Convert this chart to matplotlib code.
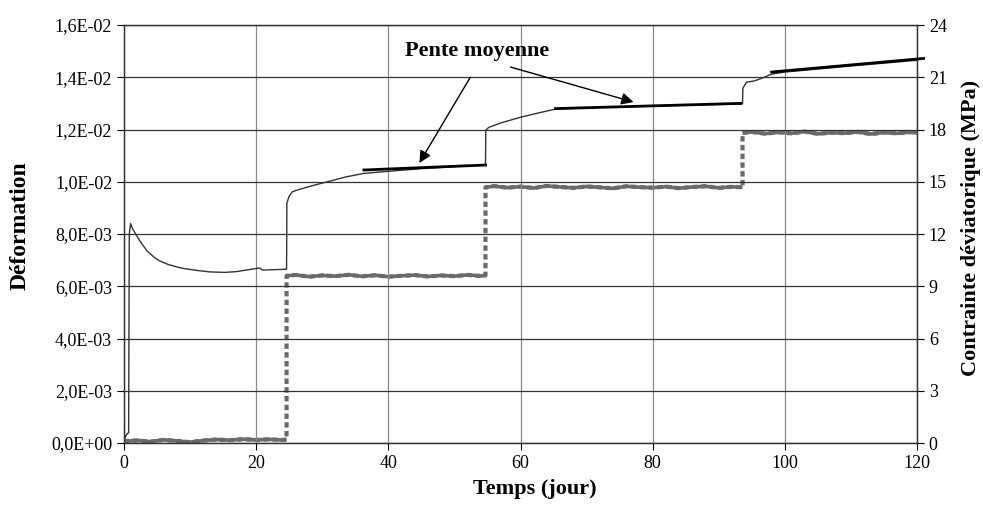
import matplotlib
matplotlib.use("Agg")
import matplotlib.pyplot as plt
from matplotlib.ticker import FuncFormatter

# ---------------- data ----------------
strain_t = [0, 0.3, 0.7, 0.8, 1.0, 1.3, 2.0, 2.6, 3.5, 4.6, 5.5, 6.6, 8.0, 9.0, 11.2, 13.0,
            15.2, 17.0, 19.0, 20.5, 21.0, 24.6, 24.65, 25.0, 25.5, 26.7, 28.5, 30.8, 33.5,
            36.3, 40.0, 45.0, 50.0, 54.7, 54.75, 55.2, 57.0, 60.0, 63.0, 65.3, 70.0, 80.0,
            90.0, 93.6, 93.65, 94.2, 95.4, 96.5, 98.0, 100.0, 110.0, 120.0]
strain_v = [0.0001, 0.0003, 0.0004, 0.0080, 0.0084, 0.0082, 0.0079, 0.00766, 0.00735,
            0.00710, 0.00696, 0.00684, 0.00674, 0.00668, 0.00660, 0.00655, 0.00653,
            0.00656, 0.00664, 0.00670, 0.00662, 0.00665, 0.00919, 0.00945, 0.00962,
            0.00972, 0.00985, 0.01000, 0.01018, 0.01032, 0.01040, 0.01050, 0.01058,
            0.01064, 0.01198, 0.01208, 0.01225, 0.01247, 0.01265, 0.01278, 0.01283,
            0.01290, 0.01296, 0.01298, 0.01358, 0.01381, 0.01386, 0.01396, 0.01412,
            0.01420, 0.01443, 0.01465]

# "Pente moyenne" fitted segments: (t_start, t_end), (strain_start, strain_end)
fit1 = ([36.3, 54.7], [0.01045, 0.01064])
fit2 = ([65.3, 93.3], [0.01280, 0.01300])
fit3 = ([98.0, 121.0], [0.01420, 0.01472])

stress_t = [0, 2, 4, 6, 8, 10, 12, 14, 16, 18, 20, 22, 24, 24.6,
            24.6, 26, 28, 30, 32, 34, 36, 38, 40, 42, 44, 46, 48, 50, 52, 54, 54.7,
            54.7, 56, 58, 60, 62, 64, 66, 68, 70, 72, 74, 76, 78, 80, 82, 84, 86, 88, 90, 92, 93.6,
            93.6, 95, 97, 99, 101, 103, 105, 107, 109, 111, 113, 115, 117, 119, 120]
stress_v = [0.10, 0.15, 0.08, 0.18, 0.12, 0.05, 0.14, 0.20, 0.16, 0.22, 0.18, 0.21, 0.17, 0.20,
            9.60, 9.65, 9.55, 9.62, 9.58, 9.66, 9.57, 9.63, 9.55, 9.60, 9.64, 9.56, 9.62, 9.58, 9.65, 9.59, 9.62,
            14.68, 14.75, 14.66, 14.72, 14.64, 14.76, 14.70, 14.65, 14.73, 14.68, 14.62, 14.74, 14.69,
            14.66, 14.72, 14.63, 14.70, 14.74, 14.65, 14.71, 14.68,
            17.80, 17.86, 17.76, 17.84, 17.78, 17.88, 17.75, 17.82, 17.79, 17.86, 17.74, 17.83, 17.78,
            17.85, 17.80]

xticks = [0, 20, 40, 60, 80, 100, 120]
yticks_left = [0, 0.002, 0.004, 0.006, 0.008, 0.010, 0.012, 0.014, 0.016]
yticks_right = [0, 3, 6, 9, 12, 15, 18, 21, 24]

# ---------------- figure ----------------
plt.rcParams['font.family'] = ['Liberation Serif', 'DejaVu Serif']

W, H = 983, 509
fig = plt.figure(figsize=(W / 100, H / 100), dpi=100)
ax = fig.add_axes([124 / W, 66 / H, (917 - 124) / W, (443 - 25) / H])
ax2 = ax.twinx()

ax.set_xlim(0, 120)
ax.set_ylim(0, 0.016)
ax2.set_ylim(0, 24)

ax.set_xticks(xticks)
ax.set_yticks(yticks_left)
ax2.set_yticks(yticks_right)


def sci_fr(v, pos):
    return ("%.1E" % v).replace('.', ',')


ax.yaxis.set_major_formatter(FuncFormatter(sci_fr))

for a in (ax, ax2):
    a.tick_params(direction='out', length=5, width=0.8, labelsize=13, colors='black')
    for sp in a.spines.values():
        sp.set_color('#333333')
        sp.set_linewidth(0.9)

ax.grid(axis='y', color='#333333', linewidth=0.9)
ax.grid(axis='x', color='#8a8a8a', linewidth=0.9)
ax.set_axisbelow(True)

# stress (right axis): dashed step line, plateaus look solid because of noise
ax2.plot(stress_t, stress_v, color='#6a6a6a', linewidth=3.0, linestyle=(0, (1.3, 0.8)),
         solid_capstyle='butt', zorder=2)
# plateau pieces (between jumps) drawn solid to mimic the dense noisy record
breaks = [i for i in range(1, len(stress_t)) if stress_t[i] == stress_t[i - 1]]
starts = [0] + breaks
ends = breaks + [len(stress_t)]
for s, e in zip(starts, ends):
    ax2.plot(stress_t[s:e], stress_v[s:e], color='#6a6a6a', linewidth=2.6,
             solid_capstyle='butt', zorder=2)

# strain (left axis) above the stress
ax.set_zorder(ax2.get_zorder() + 1)
ax.patch.set_visible(False)
ax.plot(strain_t, strain_v, color='#333333', linewidth=1.0, zorder=3)
for ft, fv in (fit1, fit2, fit3):
    ax.plot(ft, fv, color='black', linewidth=2.0, zorder=4, clip_on=False)

# annotations
ax.text(53.5, 0.0150, "Pente moyenne", ha='center', va='center',
        fontsize=16, fontweight='bold')
arrow = dict(arrowstyle='-|>', color='black', lw=1.0, mutation_scale=18,
             shrinkA=0, shrinkB=0)
ax.annotate("", xy=(44.7, 0.01072), xytext=(52.4, 0.0140), arrowprops=arrow)
ax.annotate("", xy=(77.1, 0.01305), xytext=(58.5, 0.01439), arrowprops=arrow)

fig.text(535 / W, 1 - 489 / H, "Temps (jour)", ha='center', va='center',
         fontsize=16, fontweight='bold')
fig.text(20.5 / W, 1 - 226 / H, "Déformation", ha='center', va='center',
         rotation=90, fontsize=17, fontweight='bold')
fig.text(971 / W, 1 - 228 / H, "Contrainte déviatorique (MPa)", ha='center', va='center',
         rotation=90, fontsize=16, fontweight='bold')

fig.savefig("out.png", dpi=100)
